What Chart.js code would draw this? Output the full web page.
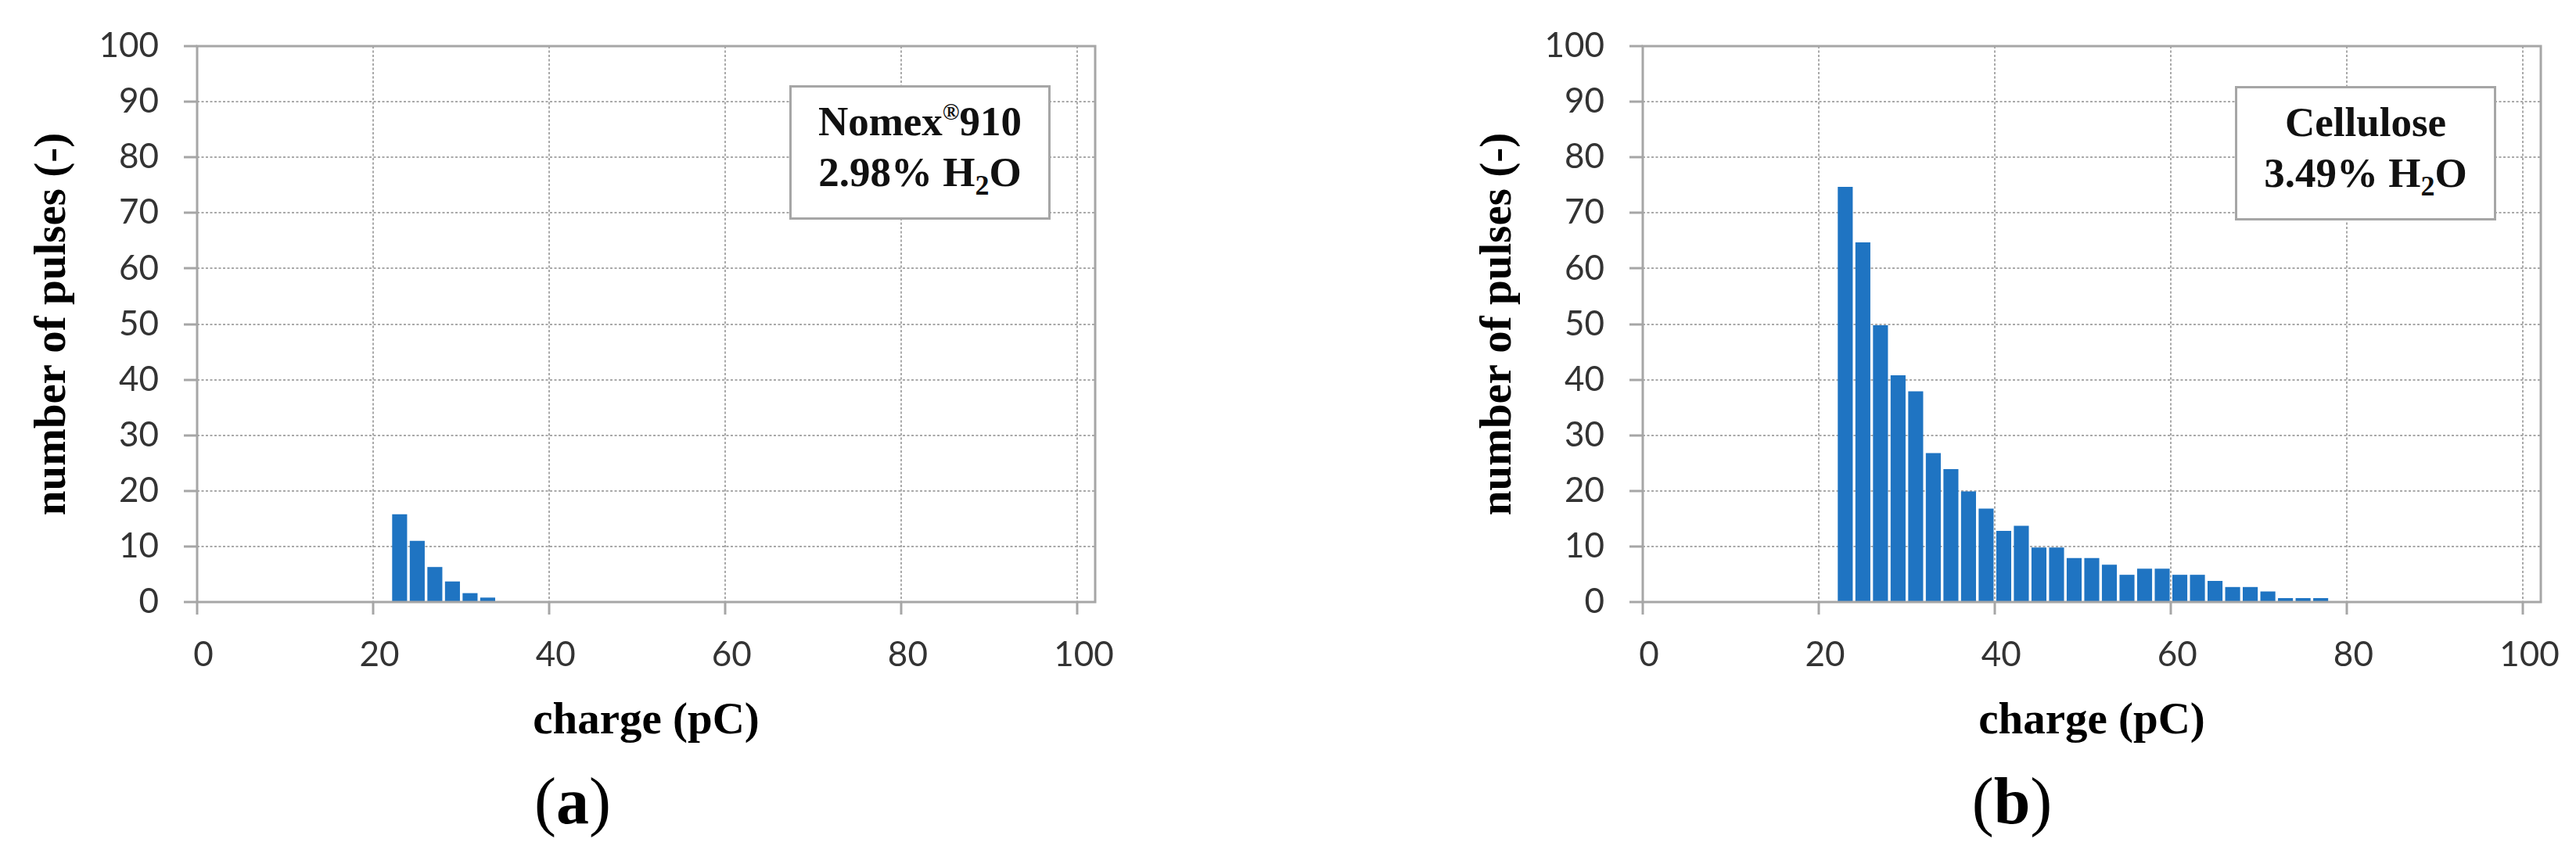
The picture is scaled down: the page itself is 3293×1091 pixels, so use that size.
<!DOCTYPE html>
<html>
<head>
<meta charset="utf-8">
<script src="https://cdn.jsdelivr.net/npm/chart.js@4.4.1/dist/chart.umd.min.js"></script>
<style>
  html, body { margin: 0; padding: 0; background: #fff; overflow: hidden; }
  body { width: 3293px; height: 1091px; position: relative; }
  canvas { position: absolute; top: 0; }
  #chartA { left: 0; }
  #chartB { left: 1848px; }
  .note {
    position: absolute; box-sizing: border-box; width: 334px; height: 172px;
    border: 3px solid #a6a6a6; background: #fff; padding-top: 11px;
    font-family: "Liberation Serif", "DejaVu Serif", serif; font-weight: bold;
    font-size: 53px; line-height: 65px; text-align: center; color: #111;
  }
  .note sup { font-size: 0.55em; line-height: 0; position: relative; top: -0.05em; }
  .note .sub { font-size: 0.68em; line-height: 0; position: relative; top: 0.3em; }
  .caption {
    position: absolute; width: 200px; text-align: center; top: 983px;
    font-family: "Liberation Serif", "DejaVu Serif", serif; font-size: 84px;
    line-height: 84px; color: #000;
  }
</style>
</head>
<body>
<canvas id="chartA" width="1460" height="1000"></canvas>
<canvas id="chartB" width="1445" height="1000"></canvas>
<div class="note" style="left:1009px; top:109px;">Nomex<sup>®</sup>910<br>2.98% H<span class="sub">2</span>O</div>
<div class="note" style="left:2857px; top:110px;">Cellulose<br>3.49% H<span class="sub">2</span>O</div>
<div class="caption" style="left:632px;">(<b>a</b>)</div>
<div class="caption" style="left:2472px;">(<b>b</b>)</div>
<script>
'use strict';

// charge bins (pC, bin centres) and pulse counts
var nomexBins = [23, 25, 27, 29, 31, 33];
var nomexCounts = [15.8, 11, 6.3, 3.7, 1.6, 0.8];

var celluloseBins = [23, 25, 27, 29, 31, 33, 35, 37, 39, 41, 43, 45, 47, 49,
  51, 53, 55, 57, 59, 61, 63, 65, 67, 69, 71, 73, 75, 77];
var celluloseCounts = [74.7, 64.7, 49.8, 40.8, 37.9, 26.8, 23.9, 19.9, 16.8, 12.8,
  13.7, 9.8, 9.8, 7.9, 7.9, 6.7, 4.9, 6.0, 6.0, 4.9, 4.9, 3.8, 2.7, 2.7, 1.9,
  0.7, 0.7, 0.7];

var xTicks = [0, 20, 40, 60, 80, 100];
var yTicks = [0, 10, 20, 30, 40, 50, 60, 70, 80, 90, 100];

var BAR_COLOR = '#1f74c2';
var GRID_COLOR = '#a9a9a9';
var AXIS_COLOR = '#a6a6a6';
var TICK_FONT = { family: 'Lato, "Liberation Sans", sans-serif', size: 44 };
var TITLE_FONT = { family: '"Liberation Serif", "DejaVu Serif", serif', size: 57, weight: 'bold' };

var framePlugin = {
  id: 'frame',
  afterDatasetsDraw: function(chart) {
    var a = chart.chartArea;
    var ctx = chart.ctx;
    ctx.save();
    ctx.strokeStyle = AXIS_COLOR;
    ctx.lineWidth = 3;
    ctx.strokeRect(a.left, a.top, a.right - a.left, a.bottom - a.top);
    ctx.restore();
  }
};

function makeChart(id, bins, counts, padRight) {
  var points = bins.map(function(b, i) { return { x: b, y: counts[i] }; });
  return new Chart(document.getElementById(id), {
    type: 'bar',
    data: {
      datasets: [{
        data: points,
        backgroundColor: BAR_COLOR,
        borderWidth: 0,
        barPercentage: 0.85,
        categoryPercentage: 1
      }]
    },
    options: {
      responsive: false,
      maintainAspectRatio: false,
      animation: false,
      layout: { padding: { left: 0, top: 59, right: padRight, bottom: 0 } },
      plugins: { legend: { display: false }, tooltip: { enabled: false } },
      scales: {
        x: {
          type: 'linear',
          min: 0,
          max: 102,
          offset: false,
          afterBuildTicks: function(axis) {
            axis.ticks = xTicks.map(function(v) { return { value: v }; });
          },
          afterFit: function(scale) { scale.height = 230; },
          ticks: { includeBounds: false, padding: 25, labelOffset: 8, color: '#333', font: TICK_FONT, maxRotation: 0 },
          grid: {
            offset: false, color: GRID_COLOR, lineWidth: 2,
            tickLength: 16, tickColor: AXIS_COLOR, tickWidth: 3, tickBorderDash: []
          },
          border: { display: false, dash: [3, 2.5] },
          title: { display: true, text: 'charge (pC)', color: '#000', font: TITLE_FONT, padding: { top: 0, bottom: 43 } }
        },
        y: {
          min: 0,
          max: 100,
          afterBuildTicks: function(axis) {
            axis.ticks = yTicks.map(function(v) { return { value: v }; });
          },
          afterFit: function(scale) { scale.width = 252; },
          ticks: { padding: 32, color: '#333', font: TICK_FONT },
          grid: {
            color: GRID_COLOR, lineWidth: 2,
            tickLength: 17, tickColor: AXIS_COLOR, tickWidth: 3, tickBorderDash: []
          },
          border: { display: false, dash: [3, 2.5] },
          title: { display: true, text: 'number of pulses (-)', color: '#000', font: TITLE_FONT, padding: { top: 34, bottom: 0 } }
        }
      }
    },
    plugins: [framePlugin]
  });
}

makeChart('chartA', nomexBins, nomexCounts, 60);
makeChart('chartB', celluloseBins, celluloseCounts, 45);
</script>
</body>
</html>
